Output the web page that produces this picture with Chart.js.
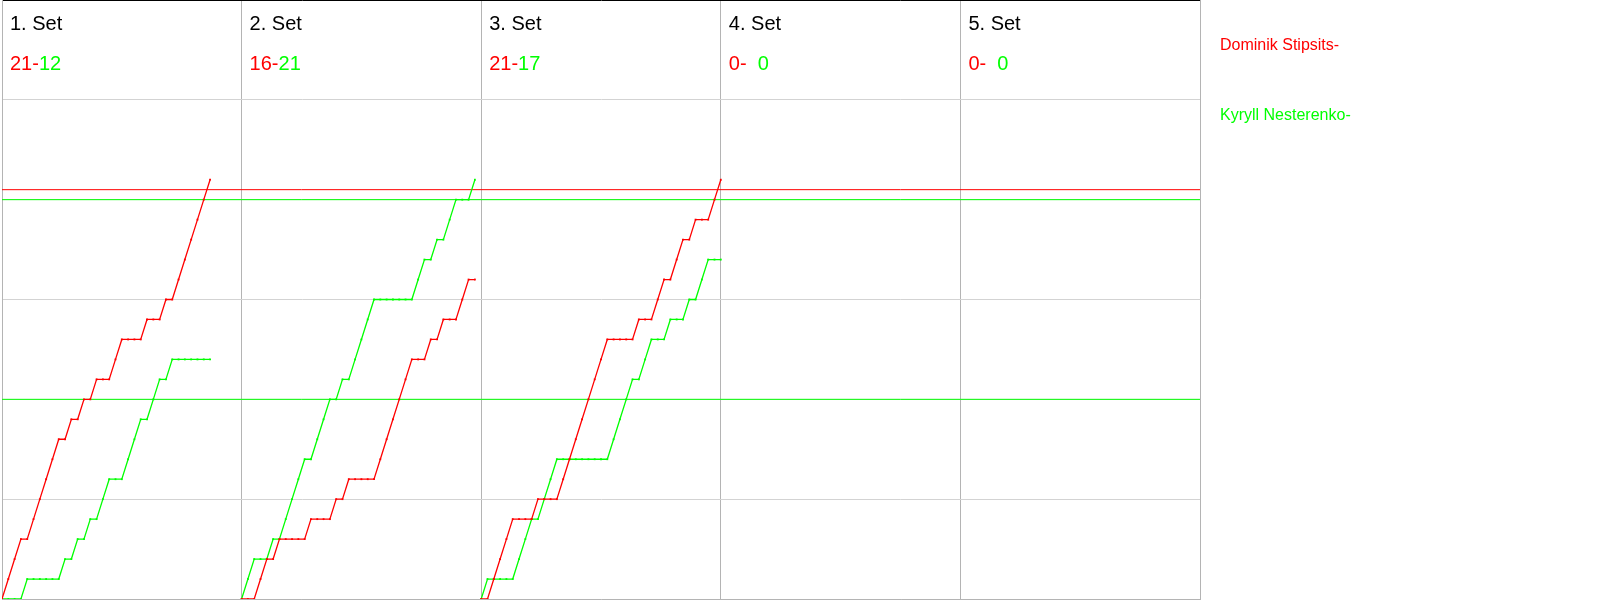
<!DOCTYPE html>
<html>
<head>
<meta charset="utf-8">
<script src="https://cdn.jsdelivr.net/npm/chart.js@4"></script>
<style>
  body { margin: 0; background: #fff; }
  #wrap { width: 1600px; height: 600px; position: relative; }
</style>
</head>
<body>
<div id="wrap"><canvas id="myChart"></canvas></div>
<script>
// players and colours
const players = ['Dominik Stipsits-', 'Kyryll Nesterenko-'];
const playerColors = ['#ff0000', '#00ff00'];

// set headers
const setLabels = ['1. Set', '2. Set', '3. Set', '4. Set', '5. Set'];
const scoreRed = ['21-', '16-', '21-', '0-', '0-'];
const scoreGreen = ['12', '21', '17', '  0', '  0'];

// running score after every rally (index = rally number)
const set1Red = [0,1,2,3,3,4,5,6,7,8,8,9,9,10,10,11,11,11,12,13,13,13,13,14,14,14,15,15,16,17,18,19,20,21];
const set1Green = [0,0,0,0,1,1,1,1,1,1,2,2,3,3,4,4,5,6,6,6,7,8,9,9,10,11,11,12,12,12,12,12,12,12];
const set2Red = [0,0,0,1,2,2,3,3,3,3,3,4,4,4,4,5,5,6,6,6,6,6,7,8,9,10,11,12,12,12,13,13,14,14,14,15,16,16];
const set2Green = [0,1,2,2,2,3,3,4,5,6,7,7,8,9,10,10,11,11,12,13,14,15,15,15,15,15,15,15,16,17,17,18,18,19,20,20,20,21];
const set3Red = [0,0,1,2,3,4,4,4,4,5,5,5,5,6,7,8,9,10,11,12,13,13,13,13,13,14,14,14,15,16,16,17,18,18,19,19,19,20,21];
const set3Green = [0,1,1,1,1,1,2,3,4,4,5,6,7,7,7,7,7,7,7,7,7,8,9,10,11,11,12,13,13,13,14,14,14,15,15,16,17,17,17];

const setsRed = [set1Red, set2Red, set3Red];
const setsGreen = [set1Green, set2Green, set3Green];

// marker lines
const refRed = [20.5];
const refGreen = [20, 10];

const ralliesPerPanel = 38;
const panels = 5;
const xMax = ralliesPerPanel * panels;

function toPoints(arr, setIdx) {
    return arr.map((v, k) => ({ x: setIdx * ralliesPerPanel + k, y: v }));
}

let datasets = [];
setsRed.forEach((s, i) => {
    datasets.push({ label: players[0], data: toPoints(s, i), borderColor: playerColors[0], backgroundColor: playerColors[0] });
    datasets.push({ label: players[1], data: toPoints(setsGreen[i], i), borderColor: playerColors[1], backgroundColor: playerColors[1] });
});
datasets.forEach(d => {
    d.borderWidth = 1.3;
    d.pointRadius = 1.3;
    d.pointStyle = 'rect';
    d.pointBorderWidth = 0;
    d.tension = 0;
});
refRed.forEach(v => {
    datasets.push({ label: 'ref', data: [{x: 0, y: v}, {x: xMax, y: v}], borderColor: playerColors[0], borderWidth: 1, pointRadius: 0 });
});
refGreen.forEach(v => {
    datasets.push({ label: 'ref', data: [{x: 0, y: v}, {x: xMax, y: v}], borderColor: playerColors[1], borderWidth: 1, pointRadius: 0 });
});

const textos = {
    id: 'textos',
    afterDraw(chart) {
        const ctx = chart.ctx;
        const xs = chart.scales.x;
        ctx.save();
        ctx.textBaseline = 'alphabetic';
        ctx.textAlign = 'left';
        ctx.font = '20px "Liberation Sans", Arial, sans-serif';
        for (let i = 0; i < panels; i++) {
            const left = xs.getPixelForValue(i * ralliesPerPanel) + 8;
            ctx.fillStyle = '#000';
            ctx.fillText(setLabels[i], left, 30);
            ctx.fillStyle = playerColors[0];
            ctx.fillText(scoreRed[i], left, 70);
            const w = ctx.measureText(scoreRed[i]).width;
            ctx.fillStyle = playerColors[1];
            ctx.fillText(scoreGreen[i], left + w, 70);
        }
        // legend
        ctx.font = '16px "Liberation Sans", Arial, sans-serif';
        const lx = chart.chartArea.right + 20;
        ctx.fillStyle = playerColors[0];
        ctx.fillText(players[0], lx, 50);
        ctx.fillStyle = playerColors[1];
        ctx.fillText(players[1], lx, 120);
        ctx.restore();
    }
};

const contenedor = document.getElementById('myChart').getContext('2d');
window.myCharts = new Chart(contenedor, {
    type: 'line',
    data: { datasets: datasets },
    options: {
        responsive: true,
        maintainAspectRatio: false,
        animation: false,
        events: [],
        layout: { autoPadding: false, padding: { left: 2, right: 400, top: 0, bottom: 1 } },
        plugins: { legend: { display: false }, tooltip: { enabled: false } },
        scales: {
            x: {
                type: 'linear',
                min: 0,
                max: xMax,
                ticks: { display: false, stepSize: ralliesPerPanel },
                grid: { color: '#b4b4b4', drawTicks: false },
                border: { display: true, color: '#b4b4b4' }
            },
            y: {
                min: 0,
                max: 30,
                ticks: { display: false, stepSize: 5 },
                grid: {
                    color: c => c.tick.value === 30 ? '#000000' : '#d3d3d3',
                    drawTicks: false
                },
                border: { display: true, color: '#b4b4b4' }
            }
        }
    },
    plugins: [textos]
});
</script>
</body>
</html>
